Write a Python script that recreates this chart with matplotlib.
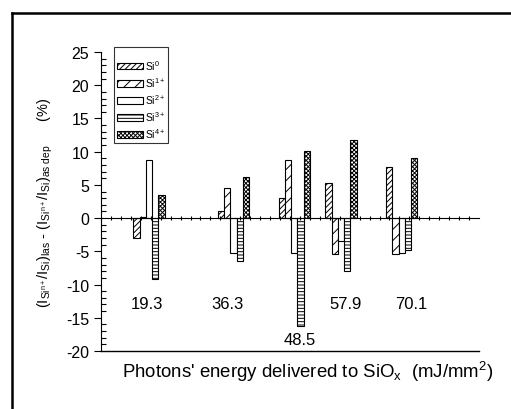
import numpy as np
import matplotlib
matplotlib.use('Agg')
import matplotlib.pyplot as plt
from matplotlib.lines import Line2D

plt.rcParams['font.family'] = ['Liberation Sans', 'DejaVu Sans']
plt.rcParams['mathtext.fontset'] = 'custom'
plt.rcParams['mathtext.rm'] = 'Liberation Sans'
plt.rcParams['mathtext.it'] = 'Liberation Sans'
plt.rcParams['mathtext.default'] = 'regular'
plt.rcParams['axes.unicode_minus'] = False
plt.rcParams['hatch.linewidth'] = 0.7

# Data
energies = [19.3, 36.3, 48.5, 57.9, 70.1]
energy_labels = ['19.3', '36.3', '48.5', '57.9', '70.1']
species = ['Si$^{0}$', 'Si$^{1+}$', 'Si$^{2+}$', 'Si$^{3+}$', 'Si$^{4+}$']
si0 = [-3.0, 1.1, 3.0, 5.3, 7.7]
si1 = [0.2, 4.6, 8.7, -5.4, -5.4]
si2 = [8.8, -5.3, -5.3, -3.4, -5.2]
si3 = [-9.2, -6.4, -16.3, -8.0, -4.8]
si4 = [3.5, 6.2, 10.1, 11.8, 9.0]
# where the energy labels are written (x, y in data units)
label_x = [19.2, 35.4, 49.9, 59.1, 72.3]
label_y = [-12.9, -12.9, -18.3, -12.8, -12.8]

series = [si0, si1, si2, si3, si4]
hatches = ['//////', '///', '', '-----', 'xxxxxxxx']

fig = plt.figure(figsize=(5.11, 4.10), dpi=100)
ax = fig.add_axes([101 / 511, 1 - 352 / 410, 378 / 511, 299 / 410])

width = 1.25
for i, vals in enumerate(series):
    xs = np.array(energies) + (i - 2) * width + 0.35
    ax.bar(xs, vals, width=width, color='white', edgecolor='black',
           linewidth=0.8, hatch=hatches[i], label=species[i])

for x, y, t in zip(label_x, label_y, energy_labels):
    ax.text(x, y, t, ha='center', va='center', fontsize=12)

ax.set_xlim(10, 86)
ax.set_ylim(-20, 25)
ax.set_yticks(np.arange(-20, 26, 5))
ax.set_yticks(np.arange(-20, 26, 1), minor=True)
ax.tick_params(axis='y', which='major', direction='out', length=5, width=0.8, labelsize=11.5)
ax.tick_params(axis='y', which='minor', direction='in', length=3.5, width=0.8)

# x axis drawn through zero with small ticks, no labels
ax.spines['bottom'].set_position(('data', 0))
ax.spines['top'].set_visible(False)
ax.spines['right'].set_visible(False)
ax.set_xticks(np.arange(10, 86, 2))
ax.tick_params(axis='x', which='major', direction='inout', length=3, width=0.8, labelbottom=False)
ax.plot([0, 1], [0, 0], transform=ax.transAxes, color='black', lw=1, clip_on=False)

ax.set_ylabel('(I$_{Si^{n+}}$/I$_{Si}$)$_{las}$ - (I$_{Si^{n+}}$/I$_{Si}$)$_{as\\ dep}$      (%)',
              fontsize=10.5, labelpad=8)
fig.text(0.602, 1 - 372 / 410, "Photons' energy delivered to SiO$_{x}$  (mJ/mm$^{2}$)",
         ha='center', va='center', fontsize=13.4)

leg = ax.legend(loc='upper left', fontsize=7.5,
                frameon=True, fancybox=False, edgecolor='black', handlelength=2.5,
                handleheight=0.6, labelspacing=0.32, handletextpad=0.25, borderpad=0.25,
                borderaxespad=0, title=' ', title_fontsize=4)
leg.set_bbox_to_anchor((114 / 511, 1 - 48 / 410), transform=fig.transFigure)
leg.get_frame().set_linewidth(0.8)

# outer frame of the page (only left and top edges fall inside the image)
fig.add_artist(Line2D([12 / 511, 12 / 511], [0, 1 - 14 / 410], color='black', lw=1.8))
fig.add_artist(Line2D([12 / 511, 1], [1 - 14 / 410, 1 - 14 / 410], color='black', lw=1.8))

fig.savefig('out.png', dpi=100)
